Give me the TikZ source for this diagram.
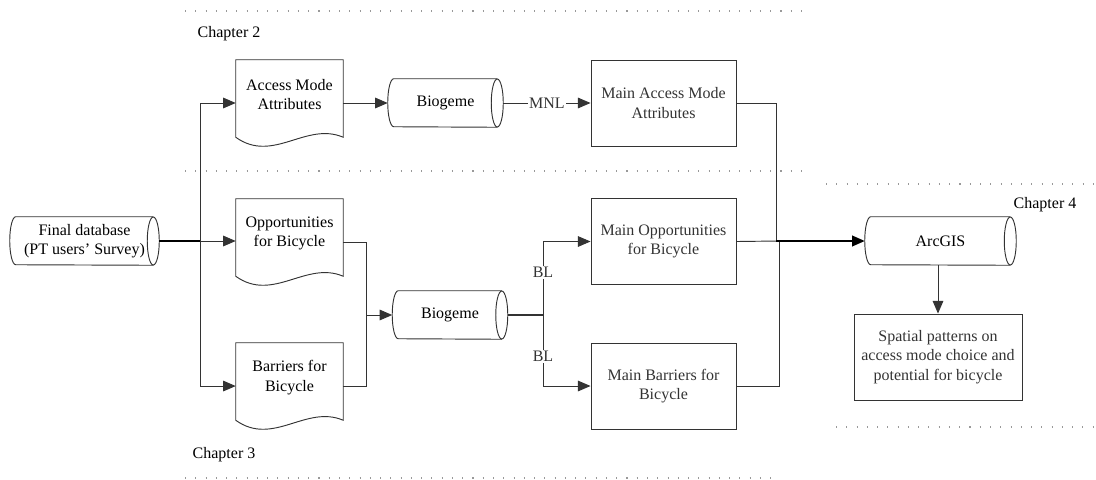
\documentclass[tikz,border=0pt]{standalone}
\usepackage{fontspec}
\setmainfont{Liberation Serif}
\usepackage{tikz}
\usetikzlibrary{arrows.meta}

% outlines drawn round an empty named node
\newcommand{\docoutline}[1]{%
  \draw[shapeline] ([yshift=-6pt]#1.south west) -- (#1.north west) -- (#1.north east) -- ([yshift=-6pt]#1.south east)
    .. controls +(-28pt,12pt) and +(28pt,-20pt) .. ([yshift=-6pt]#1.south west);}
\newcommand{\cyloutline}[1]{%
  \draw[shapeline] ([xshift=-4.5pt]#1.north east) -- ([xshift=4.5pt]#1.north west)
    arc[start angle=90, end angle=270, x radius=4.5pt, y radius=18pt]
    -- ([xshift=-4.5pt]#1.south east);
  \draw[shapeline] ([xshift=-4.5pt]#1.east) ellipse [x radius=4.5pt, y radius=18pt];}

\begin{document}
\begin{tikzpicture}[x=0.75pt, y=0.75pt,
    font=\fontsize{12pt}{14.5pt}\selectfont,
    shapeline/.style={black!80, line width=0.7pt},
    conn/.style={black!80, line width=0.7pt},
    arr/.style={conn, -{Triangle[length=9.5pt, width=8pt]}},
    heavy/.style={black, line width=1.4pt},
    docbox/.style={minimum width=80.25pt, minimum height=51.75pt, align=center, inner sep=0pt},
    cylbox/.style={minimum height=36pt, align=center, inner sep=0pt},
    procbox/.style={draw, shapeline, minimum width=108.75pt, minimum height=64.5pt, align=center, inner sep=0pt},
    lbl/.style={fill=white, inner sep=1pt},
    sepline/.style={gray!80, line width=0.8pt, dash pattern=on 0.8pt off 6.9pt}]
        \useasboundingbox (0,0) rectangle (1096,-479);

        % Chapter separators
        \draw[sepline] (185,-11) -- (808,-11);
        \draw[sepline] (185,-171) -- (808,-171);
        \draw[sepline] (185,-478) -- (775,-478);
        \draw[sepline] (826,-184) -- (1094,-184);
        \draw[sepline] (836,-427) -- (1096,-427);
        \node[anchor=west] (ch2) at (193,-34) {Chapter 2};
        \node[anchor=west] (ch3) at (188,-455) {Chapter 3};
        \node[anchor=west] (ch4) at (1009,-205) {Chapter 4};

        % Survey data
        \node[cylbox, minimum width=111.75pt] (db) at (84.5,-241) {Final database\\(PT users' Survey)};
        \cyloutline{db}

        % Input documents
        \node[docbox] (acc) at (289.5,-94.5) {Access Mode\\Attributes};
        \docoutline{acc}
        \node[docbox] (opp) at (289.5,-233.5) {Opportunities\\for Bicycle};
        \docoutline{opp}
        \node[docbox] (bar) at (289.5,-377.5) {Barriers for\\Bicycle};
        \docoutline{bar}

        % Model estimation
        \node[cylbox, minimum width=86.25pt] (bio1) at (445.5,-103) {Biogeme};
        \cyloutline{bio1}
        \node[cylbox, minimum width=86.25pt] (bio2) at (450,-315) {Biogeme};
        \cyloutline{bio2}

        % Results
        \node[procbox] (macc) at (663.5,-103) {Main Access Mode\\Attributes};
        \node[procbox] (mopp) at (663.5,-241.5) {Main Opportunities\\for Bicycle};
        \node[procbox] (mbar) at (663.5,-386) {Main Barriers for\\Bicycle};

        % Chapter 4
        \node[cylbox, minimum width=113.25pt] (gis) at (940.5,-241) {ArcGIS};
        \cyloutline{gis}
        \node[procbox, minimum width=126pt] (spat) at (938,-357) {Spatial patterns on\\access mode choice and\\potential for bicycle};

        % Junctions
        \coordinate (split1) at (200,-241);
        \coordinate (merge1) at (366,-315);
        \coordinate (split2) at (543,-315);
        \coordinate (join) at (776,-241);
        \coordinate (joinb) at (779,-241);

        % Connectors
        \draw[heavy] (db.east) -- (split1);
        \draw[arr] (split1) -- (split1 -| opp.west);
        \draw[arr] (split1) |- (acc.west |- bio1.west);
        \draw[arr] (split1) |- ([yshift=-6.4pt]bar.west);
        \draw[arr] (acc.east |- bio1.west) -- (bio1.west);
        \draw[arr] (bio1.east) -- node[lbl] {MNL} (macc.west);
        \draw[conn] ([yshift=-6.4pt]opp.east) -| (merge1);
        \draw[conn] ([yshift=-6.4pt]bar.east) -| (merge1);
        \draw[arr] (merge1) -- (bio2.west);
        \draw[conn, line width=1pt] (bio2.east) -- (split2);
        \draw[arr] (split2) |- node[lbl, pos=0.29] {BL} (mopp.west);
        \draw[arr] (split2) |- node[lbl, pos=0.29] {BL} (mbar.west);
        \draw[conn] (macc.east) -| (join);
        \draw[conn] (mopp.east) -- (joinb);
        \draw[conn] (mbar.east) -| (joinb);
        \draw[heavy, -{Triangle[length=9.5pt, width=8pt]}] (join) -- (gis.west);
        \draw[arr] (gis.south -| spat.north) -- (spat.north);
    \end{tikzpicture}
\end{document}
